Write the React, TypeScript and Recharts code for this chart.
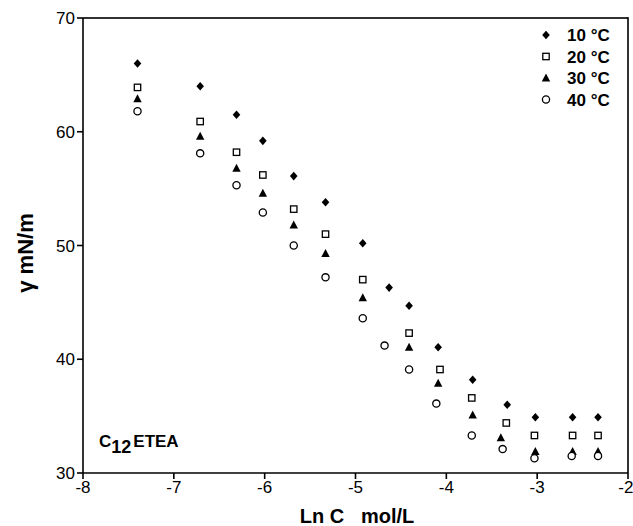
import React from 'react'
import { ScatterChart, Scatter, XAxis, YAxis } from 'recharts'

// ln C (mol/L) and surface tension (mN/m)
const x10 = [-7.40, -6.71, -6.31, -6.02, -5.68, -5.33, -4.92, -4.63, -4.41, -4.09, -3.71, -3.33, -3.02, -2.61, -2.33]
const y10 = [66.0, 64.0, 61.5, 59.2, 56.1, 53.8, 50.2, 46.3, 44.7, 41.05, 38.2, 36.0, 34.9, 34.9, 34.9]

const x20 = [-7.40, -6.71, -6.31, -6.02, -5.68, -5.33, -4.92, -4.41, -4.07, -3.72, -3.34, -3.03, -2.61, -2.33]
const y20 = [63.9, 60.9, 58.2, 56.2, 53.2, 51.0, 47.0, 42.3, 39.1, 36.6, 34.4, 33.3, 33.3, 33.3]

const x30 = [-7.40, -6.71, -6.31, -6.02, -5.68, -5.33, -4.92, -4.41, -4.09, -3.71, -3.40, -3.02, -2.61, -2.33]
const y30 = [62.9, 59.6, 56.8, 54.6, 51.8, 49.3, 45.4, 41.05, 37.9, 35.1, 33.1, 31.9, 31.9, 31.9]

const x40 = [-7.40, -6.71, -6.31, -6.02, -5.68, -5.33, -4.92, -4.68, -4.41, -4.11, -3.72, -3.38, -3.03, -2.62, -2.33]
const y40 = [61.8, 58.1, 55.3, 52.9, 50.0, 47.2, 43.6, 41.2, 39.1, 36.1, 33.3, 32.1, 31.3, 31.5, 31.5]

const xTicks = [-8, -7, -6, -5, -4, -3, -2]
const yTicks = [30, 40, 50, 60, 70]
const seriesNames = ['10 °C', '20 °C', '30 °C', '40 °C']

const toPoints = (xs: number[], ys: number[]) => xs.map((x, i) => ({ x, y: ys[i] }))

const FONT = '"Liberation Sans", Arial, sans-serif'

// layout
const W = 633
const H = 526
const MARGIN = { top: 18, right: 5, left: 0, bottom: 0 }
const Y_AXIS_W = 83
const X_AXIS_H = 53

const PLOT_LEFT = MARGIN.left + Y_AXIS_W
const PLOT_TOP = MARGIN.top
const PLOT_RIGHT = W - MARGIN.right
const PLOT_BOTTOM = H - MARGIN.bottom - X_AXIS_H

function Diamond({ cx, cy }: any) {
  return <path d={`M${cx},${cy - 4.3}L${cx + 3.8},${cy}L${cx},${cy + 4.3}L${cx - 3.8},${cy}Z`} fill="#000" />
}
function Square({ cx, cy }: any) {
  return <rect x={cx - 3.2} y={cy - 3.2} width={6.4} height={6.4} fill="#fff" stroke="#000" strokeWidth={1.3} />
}
function Triangle({ cx, cy }: any) {
  return <path d={`M${cx},${cy - 4.5}L${cx + 4.2},${cy + 3.5}L${cx - 4.2},${cy + 3.5}Z`} fill="#000" />
}
function Circle({ cx, cy }: any) {
  return <circle cx={cx} cy={cy} r={3.6} fill="#fff" stroke="#000" strokeWidth={1.3} />
}

const shapes = [Diamond, Square, Triangle, Circle]

export default function App() {
  return (
    <div style={{ position: 'absolute', left: 0, top: 0, width: W, height: H, background: '#fff' }}>
      <ScatterChart width={W} height={H} margin={MARGIN}>
        <XAxis
          type="number"
          dataKey="x"
          domain={[-8, -2]}
          ticks={xTicks}
          height={X_AXIS_H}
          stroke="#000"
          strokeWidth={1.6}
          tickSize={6}
          tick={{ fill: '#000', fontSize: 17, fontFamily: FONT }}
        />
        <YAxis
          type="number"
          dataKey="y"
          domain={[30, 70]}
          ticks={yTicks}
          width={Y_AXIS_W}
          stroke="#000"
          strokeWidth={1.6}
          tickSize={6}
          tick={{ fill: '#000', fontSize: 17, fontFamily: FONT }}
        />

        <Scatter name={seriesNames[0]} data={toPoints(x10, y10)} shape={Diamond} isAnimationActive={false} />
        <Scatter name={seriesNames[1]} data={toPoints(x20, y20)} shape={Square} isAnimationActive={false} />
        <Scatter name={seriesNames[2]} data={toPoints(x30, y30)} shape={Triangle} isAnimationActive={false} />
        <Scatter name={seriesNames[3]} data={toPoints(x40, y40)} shape={Circle} isAnimationActive={false} />

        {/* legend */}
        {seriesNames.map((name, i) => {
          const Shape = shapes[i]
          const cy = 35 + i * 21.5
          return (
            <g key={name}>
              <Shape cx={546} cy={cy} />
              <text x={567} y={cy + 6} fontFamily={FONT} fontWeight="bold" fontSize={17} fill="#000">{name}</text>
            </g>
          )
        })}

        {/* axis titles */}
        <text x={357} y={523} textAnchor="middle" fontFamily={FONT} fontWeight="bold" fontSize={20} fill="#000">
          {'Ln C\u00a0\u00a0\u00a0mol/L'}
        </text>
        <text transform="translate(33,253) rotate(-90)" textAnchor="middle" fontFamily={FONT} fontWeight="bold" fontSize={22} fill="#000">
          γ mN/m
        </text>

        <text x={99} y={447} fontFamily={FONT} fontWeight="bold" fontSize={17} fill="#000">
          C<tspan dy={6} fontSize={18}>12</tspan><tspan dy={-6} dx={2}>ETEA</tspan>
        </text>

        {/* top and right edges of the plot box */}
        <g key="frame">
          <rect x={PLOT_LEFT} y={PLOT_TOP - 0.8} width={PLOT_RIGHT - PLOT_LEFT} height={1.6} fill="#000" />
          <rect x={PLOT_RIGHT - 0.8} y={PLOT_TOP - 0.8} width={1.6} height={PLOT_BOTTOM - PLOT_TOP + 0.8} fill="#000" />
        </g>
      </ScatterChart>
    </div>
  )
}
